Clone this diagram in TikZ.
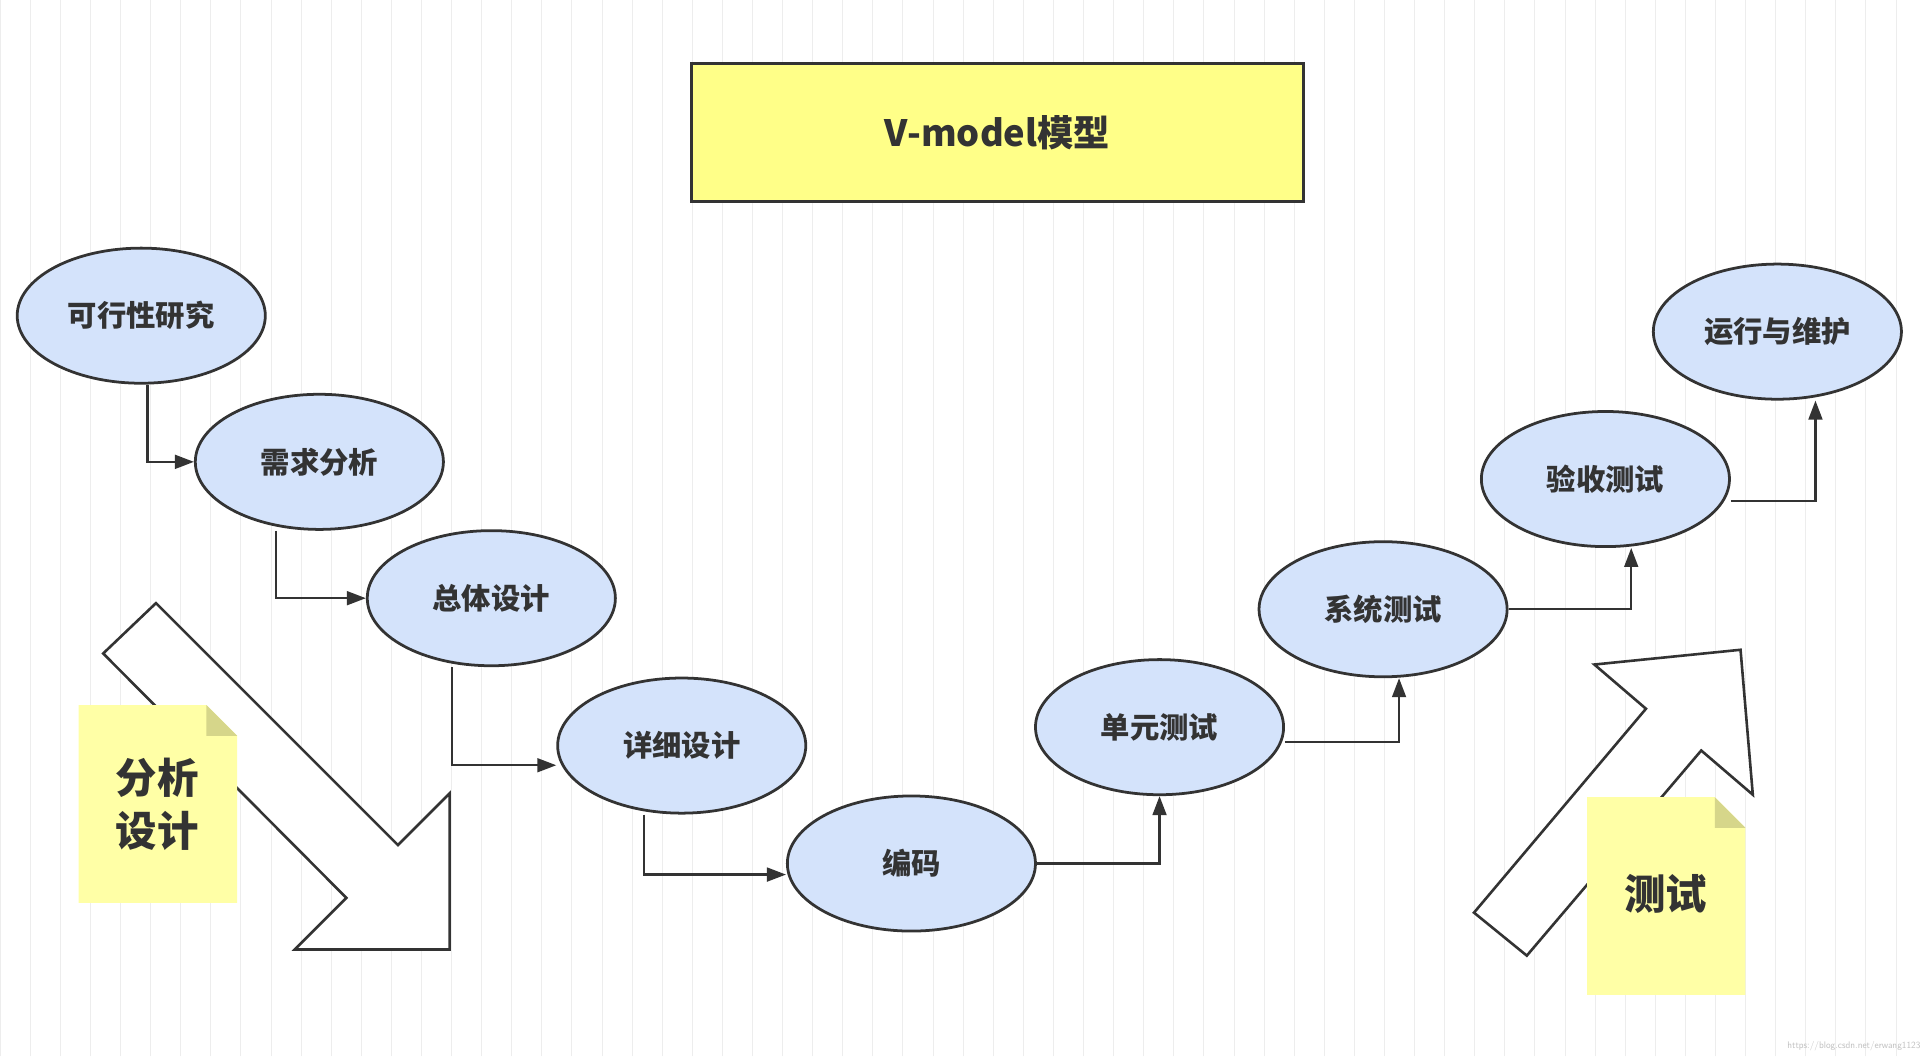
\documentclass[tikz,border=0pt]{standalone}
\usepackage{fontspec}
\setmainfont{Noto Sans CJK SC}
\usetikzlibrary{arrows.meta,shapes.geometric}
\definecolor{ell}{HTML}{D4E3FB}
\definecolor{ttl}{HTML}{FFFF88}
\definecolor{note}{HTML}{FFFFA6}
\definecolor{fold}{HTML}{D6D68A}
\definecolor{ln}{HTML}{333333}
\begin{document}
\begin{tikzpicture}[x=0.05cm,y=-0.05cm,
 st/.style={ellipse,draw=ln,line width=3.2pt,fill=ell,inner sep=0pt,minimum width=10.1cm,minimum height=5.5cm,font=\fontsize{34}{40}\selectfont\bfseries,text=ln},
 cn/.style={draw=ln,line width=2.6pt,-{Triangle[length=22pt,width=16pt]}},
 big/.style={draw=ln,line width=3pt,fill=white,line join=miter},
 notetxt/.style={font=\fontsize{48}{62}\selectfont\bfseries,text=ln,align=center}]
\useasboundingbox (0,0) rectangle (1568,860);
\fill[white] (0,0) rectangle (1568,860);
\draw[black!7,line width=0.8pt] (0,0) grid[step=24.5] (1568,860);
\node[draw=ln,line width=3.2pt,fill=ttl,minimum width=24.9cm,minimum height=5.6cm,font=\fontsize{42}{50}\selectfont\bfseries,text=ln] (t) at (812,108) {V-model模型};
\node[st] (a) at (115,257) {可行性研究};
\node[st] (b) at (260,376) {需求分析};
\node[st] (c) at (400,487) {总体设计};
\node[st] (d) at (555,607) {详细设计};
\node[st] (e) at (742,703) {编码};
\node[st] (f) at (944,592) {单元测试};
\node[st] (g) at (1126,496) {系统测试};
\node[st] (h) at (1307,390) {验收测试};
\node[st] (i) at (1447,270) {运行与维护};
\draw[cn] ([xshift=5*0.05cm]a.south) |- (b.west);
\draw[cn] ([xshift=-35*0.05cm]b.south) |- (c.west);
\draw[cn] ([xshift=-32*0.05cm]c.south) |- ([yshift=-16*0.05cm]d.west);
\draw[cn] ([xshift=-31*0.05cm]d.south) |- ([yshift=-9*0.05cm]e.west);
\draw[cn] (e.east) -| (f.south);
\draw[cn] ([yshift=-12*0.05cm]f.east) -| ([xshift=13*0.05cm]g.south);
\draw[cn] (g.east) -| ([xshift=21*0.05cm]h.south);
\draw[cn] ([yshift=-18*0.05cm]h.east) -| ([xshift=31*0.05cm]i.south);
\draw[big] (84,532) -- (127,491) -- (324,688) -- (366,646) -- (366,773) -- (240,773) -- (282,731) -- cycle;
\draw[big] (1200,743) -- (1340,577) -- (1298,541) -- (1417,529) -- (1427,647) -- (1385,611) -- (1243,778) -- cycle;
\fill[note] (64,574) -- (168,574) -- (193,599) -- (193,735) -- (64,735) -- cycle;
\fill[fold] (168,574) -- (193,599) -- (168,599) -- cycle;
\node[notetxt] (n1) at (128,655) {分析\\设计};
\fill[note] (1292,649) -- (1396,649) -- (1421,674) -- (1421,810) -- (1292,810) -- cycle;
\fill[fold] (1396,649) -- (1421,674) -- (1396,674) -- cycle;
\node[notetxt] (n2) at (1356,728) {测试};
\node[anchor=south east,text=black!25,font=\fontsize{11}{12}\selectfont\sffamily] (w) at (1566,858) {https://blog.csdn.net/erwang1123};
\end{tikzpicture}
\end{document}
